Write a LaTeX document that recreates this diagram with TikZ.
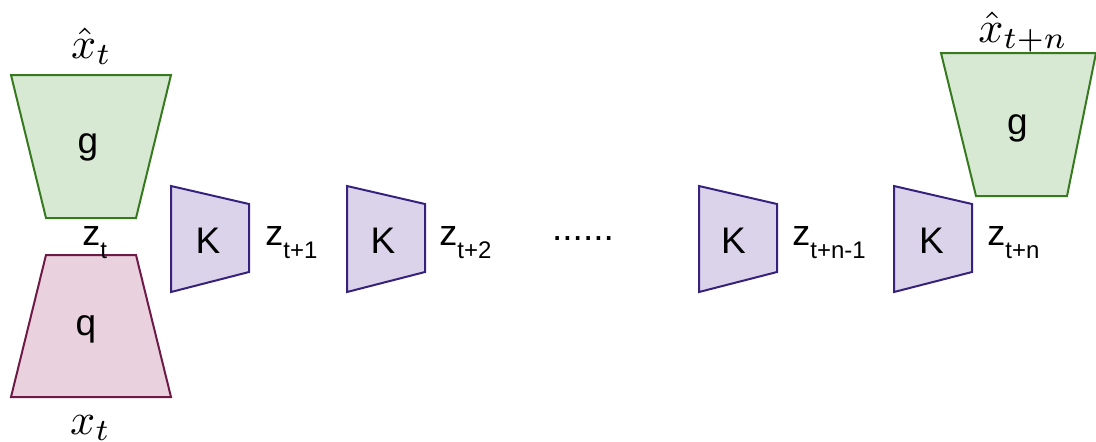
\documentclass[tikz,border=0pt]{standalone}
\usepackage{fontspec}
\setsansfont{Liberation Sans}
\usepackage{amsmath}
\usepackage{graphicx}
\usepackage{tikz}
\usetikzlibrary{positioning}

\definecolor{gfill}{HTML}{D7E9D3}
\definecolor{gline}{HTML}{36791F}
\definecolor{qfill}{HTML}{E9D1DD}
\definecolor{qline}{HTML}{6E1A47}
\definecolor{kfill}{HTML}{DBD3E9}
\definecolor{kline}{HTML}{36217D}

\newcommand{\zsub}[1]{z\raisebox{-6.5pt}{\fontsize{12}{12}\selectfont #1}}
\newcommand{\bigmath}[1]{\scalebox{2.2}{$#1$}}

\tikzset{
  gdec/.style={draw=gline, fill=gfill, line width=1pt, line join=miter},
  qenc/.style={draw=qline, fill=qfill, line width=1pt},
  kop/.style={draw=kline, fill=kfill, line width=1pt},
  blocklbl/.style={inner sep=0pt, anchor=base, font=\sffamily\fontsize{18.5}{20}\selectfont},
  zlbl/.style={inner sep=0pt, anchor=base west, font=\sffamily\fontsize{18}{20}\selectfont},
  mathlbl/.style={inner sep=0pt, anchor=base}
}

\begin{document}
\begin{tikzpicture}[x=0.5pt, y=-0.5pt]
    \useasboundingbox (0,0) rectangle (1096,441);

    % encoder / decoder at time t
    \draw[gdec] (11,75) -- (171,75) -- (136,218) -- (46,218) -- cycle;
    \draw[qenc] (46,255) -- (136,255) -- (171,397) -- (11,397) -- cycle;
    \node (gdec1) [blocklbl] at (88,153) {g};
    \node (qenc1) [blocklbl] at (86,335) {q};
    \node (xhat) [mathlbl] at (91.5,58) {\bigmath{\hat{x}_t}};
    \node (xin) [mathlbl] at (90.5,434) {\bigmath{x_t}};
    \node (zt) [zlbl] at (82,245) {\zsub{t}};

    % Koopman steps
    \draw[kop] (171,186) -- (249,204) -- (249,272) -- (171,292) -- cycle;
    \draw[kop] (347,186) -- (425,204) -- (425,272) -- (347,292) -- cycle;
    \draw[kop] (699,186) -- (777,204) -- (777,272) -- (699,292) -- cycle;
    \draw[kop] (894,186) -- (972,204) -- (972,272) -- (894,292) -- cycle;
    \node (k1) [blocklbl] at (208,253) {K};
    \node (k2) [blocklbl] at (383,253) {K};
    \node (k3) [blocklbl] at (733.5,253) {K};
    \node (k4) [blocklbl] at (931.5,253) {K};

    \node (zt1) [zlbl] at (265,245) {\zsub{t+1}};
    \node (zt2) [zlbl] at (439,245) {\zsub{t+2}};
    \node (dots) [blocklbl] at (583,240) {......};
    \node (ztn1) [zlbl] at (792,245) {\zsub{t+n-1}};
    \node (ztn) [zlbl] at (987,245) {\zsub{t+n}};

    % decoder at time t+n
    \draw[gdec] (941,53) -- (1096,53) -- (1067,196) -- (976,196) -- cycle;
    \node (gdec2) [blocklbl] at (1017.5,134) {g};
    \node (xhatn) [mathlbl] at (1023,42) {\bigmath{\hat{x}_{t+n}}};
\end{tikzpicture}
\end{document}
